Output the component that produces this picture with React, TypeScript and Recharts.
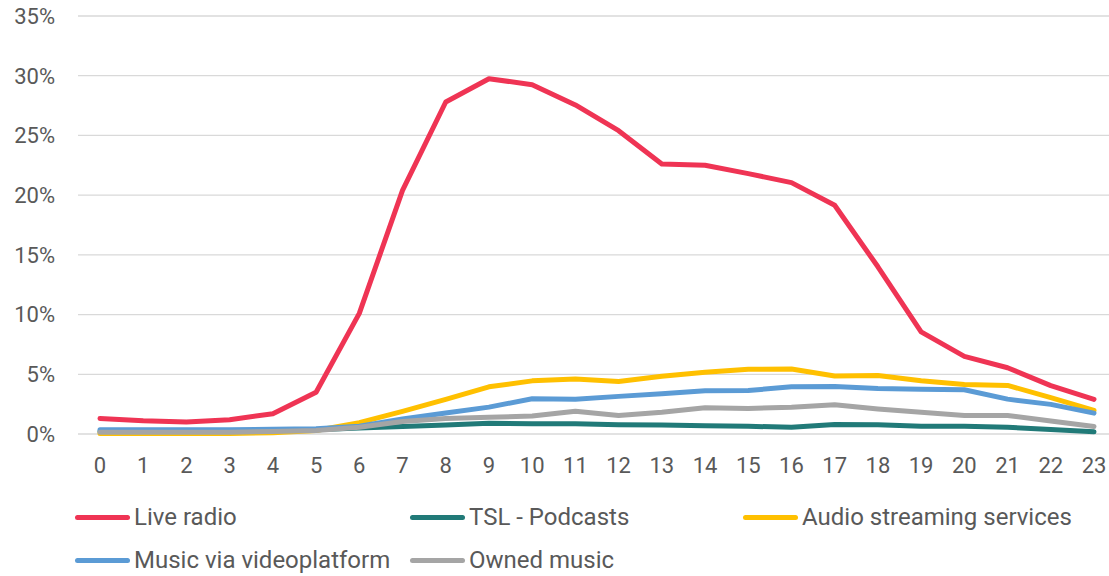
import { CartesianGrid, Legend, Line, LineChart, XAxis, YAxis } from "recharts";

const hours = Array.from({ length: 24 }, (_, i) => String(i));

const liveRadio = [1.3, 1.1, 1.0, 1.2, 1.7, 3.5, 10.1, 20.4, 27.8, 29.75, 29.25, 27.55, 25.4, 22.6, 22.5, 21.8, 21.05, 19.15, 14.0, 8.55, 6.5, 5.55, 4.05, 2.9];
const podcasts = [0.2, 0.2, 0.2, 0.2, 0.25, 0.35, 0.5, 0.62, 0.75, 0.9, 0.85, 0.85, 0.77, 0.75, 0.7, 0.64, 0.57, 0.8, 0.78, 0.65, 0.64, 0.57, 0.38, 0.18];
const audioStreaming = [0.05, 0.05, 0.05, 0.05, 0.1, 0.3, 0.95, 1.9, 2.9, 3.95, 4.45, 4.6, 4.4, 4.83, 5.17, 5.42, 5.45, 4.85, 4.9, 4.45, 4.15, 4.07, 3.05, 1.97];
const videoPlatform = [0.35, 0.35, 0.35, 0.35, 0.4, 0.45, 0.65, 1.25, 1.75, 2.25, 2.95, 2.9, 3.15, 3.38, 3.62, 3.64, 3.95, 3.98, 3.8, 3.75, 3.7, 2.92, 2.48, 1.75];
const ownedMusic = [0.15, 0.15, 0.15, 0.15, 0.2, 0.3, 0.57, 1.05, 1.3, 1.4, 1.5, 1.9, 1.55, 1.83, 2.2, 2.14, 2.25, 2.45, 2.1, 1.83, 1.55, 1.55, 1.08, 0.63];

const yTicks = [0, 5, 10, 15, 20, 25, 30, 35];

const series = [
  { key: "live", name: "Live radio", color: "#EF3454", values: liveRadio },
  { key: "podcasts", name: "TSL - Podcasts", color: "#217A78", values: podcasts },
  { key: "audio", name: "Audio streaming services", color: "#FFC000", values: audioStreaming },
  { key: "video", name: "Music via videoplatform", color: "#5B9BD5", values: videoPlatform },
  { key: "owned", name: "Owned music", color: "#A5A5A5", values: ownedMusic },
];

const data = hours.map((h, i) => {
  const row: Record<string, string | number> = { hour: h };
  series.forEach((s) => (row[s.key] = s.values[i]));
  return row;
});

const FONT = "Roboto, 'Noto Sans', sans-serif";
const TEXT = "#595959";

// Excel-style legend: 3 columns, wraps onto a second row
function ChartLegend() {
  const colX = [75, 410, 743];
  return (
    <div style={{ position: "relative", width: 1109, height: 86, fontFamily: FONT }}>
      {series.map((s, i) => {
        const left = colX[i % 3];
        const top = i < 3 ? 27 : 70;
        return (
          <div key={s.key} style={{ position: "absolute", left, top: top - 15, height: 30, display: "flex", alignItems: "center" }}>
            <span style={{ width: 55, height: 5, borderRadius: 3, background: s.color, display: "inline-block" }} />
            <span style={{ marginLeft: 4, fontSize: 24, color: TEXT, whiteSpace: "nowrap" }}>{s.name}</span>
          </div>
        );
      })}
    </div>
  );
}

export default function App() {
  return (
    <div style={{ position: "absolute", left: 0, top: 0, background: "#fff" }}>
      <LineChart width={1109} height={576} data={data} margin={{ top: 16, right: 0, bottom: 0, left: 0 }}>
        <CartesianGrid vertical={false} stroke="#D9D9D9" strokeWidth={1.3} />
        <XAxis
          dataKey="hour"
          axisLine={false}
          tickLine={false}
          tickSize={0}
          tickMargin={23}
          height={56}
          interval={0}
          padding={{ left: 22, right: 15 }}
          tick={{ fill: TEXT, fontSize: 22, fontFamily: FONT }}
        />
        <YAxis
          domain={[0, 35]}
          ticks={yTicks}
          width={78}
          axisLine={false}
          tickLine={false}
          tickSize={0}
          tickMargin={23}
          tickFormatter={(v) => `${v}%`}
          tick={{ fill: TEXT, fontSize: 22, fontFamily: FONT }}
        />
        <Legend verticalAlign="bottom" wrapperStyle={{ left: 0, width: 1109, height: 86 }} content={() => <ChartLegend />} />
        {series.map((s) => (
          <Line
            key={s.key}
            type="linear"
            dataKey={s.key}
            name={s.name}
            stroke={s.color}
            strokeWidth={5}
            strokeLinecap="round"
            strokeLinejoin="round"
            dot={false}
            activeDot={false}
            isAnimationActive={false}
          />
        ))}
      </LineChart>
    </div>
  );
}
